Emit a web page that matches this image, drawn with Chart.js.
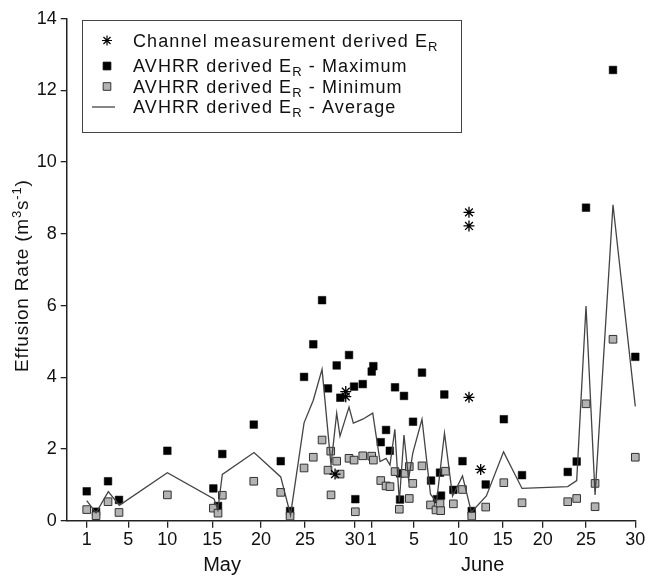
<!DOCTYPE html>
<html>
<head>
<meta charset="utf-8">
<script src="https://cdn.jsdelivr.net/npm/chart.js@4.4.1/dist/chart.umd.min.js"></script>
<style>
  html, body { margin: 0; padding: 0; background: #fff; }
</style>
</head>
<body>
<canvas id="effusionChart" width="658" height="576"></canvas>
<script>
// x values are days counted from 1 May (1 June = 32)
var tickDays   = [1, 5.55, 9.82, 14.74, 20.06, 24.88, 30.31, 32.17, 36.8, 41.64, 46.5, 50.87, 55.61, 61];
var tickLabels = ['1', '5', '10', '15', '20', '25', '30', '1', '5', '10', '15', '20', '25', '30'];
var monthLabels = ['May', 'June'];

var channelDays   = [28.16, 29.33, 29.33, 42.81, 42.81, 42.81, 44.09];
var channelValues = [1.30, 3.60, 3.46, 8.60, 8.22, 3.44, 1.43];

var maxDays = [1.0, 2.02, 3.33, 4.53, 9.82, 14.85, 15.36, 15.83, 19.27, 22.22, 23.24, 24.77, 25.78, 26.74, 27.39,
  28.34, 28.74, 29.69, 30.24, 30.38, 31.19, 32.17, 32.35, 33.16, 33.74, 34.15, 34.72, 35.27, 35.27, 35.70,
  36.69, 37.67, 38.66, 39.31, 39.64, 39.75, 40.11, 41.10, 42.10, 43.11, 44.64, 46.62, 48.61, 53.61, 54.59,
  55.61, 58.56, 61.0];
var maxValues = [0.82, 0.25, 1.10, 0.58, 1.95, 0.90, 0.41, 1.86, 2.68, 1.66, 0.27, 4.01, 4.92, 6.15, 3.69,
  4.33, 3.43, 4.62, 3.74, 0.60, 3.81, 4.16, 4.31, 2.19, 2.53, 1.95, 3.72, 0.59, 1.32, 3.48,
  2.76, 4.13, 1.12, 0.60, 1.34, 0.70, 3.52, 0.86, 1.66, 0.27, 1.01, 2.83, 1.27, 1.36, 1.65,
  8.73, 12.57, 4.57];

var minDays = [1.0, 2.02, 3.33, 4.53, 9.82, 14.85, 15.36, 15.83, 19.27, 22.22, 23.24, 24.77, 25.78, 26.74, 27.39,
  27.69, 27.72, 28.34, 28.71, 29.69, 30.24, 30.38, 31.19, 32.17, 32.35, 33.16, 33.74, 34.17, 34.72, 35.19,
  35.81, 36.28, 36.28, 36.66, 37.67, 38.60, 39.20, 39.64, 39.72, 40.24, 41.10, 42.10, 43.11, 44.64, 46.62,
  48.61, 53.61, 54.59, 55.61, 56.60, 56.60, 58.56, 61.0];
var minValues = [0.31, 0.14, 0.53, 0.23, 0.72, 0.35, 0.21, 0.71, 1.10, 0.79, 0.13, 1.47, 1.77, 2.25, 1.41,
  1.94, 0.72, 1.66, 1.30, 1.74, 1.69, 0.25, 1.81, 1.80, 1.69, 1.12, 0.97, 0.95, 1.37, 0.32,
  1.32, 1.51, 0.62, 1.04, 1.53, 0.44, 0.30, 0.48, 0.28, 1.38, 0.47, 0.87, 0.13, 0.38, 1.06,
  0.50, 0.53, 0.62, 3.26, 1.04, 0.39, 5.06, 1.77];

var avgDays = [1.0, 2.02, 3.36, 4.57, 9.82, 14.92, 15.34, 15.83, 19.30, 22.22, 23.29, 24.77, 25.78, 26.74, 27.72,
  28.34, 28.70, 29.69, 30.16, 31.19, 32.28, 33.08, 33.74, 34.17, 34.70, 35.19, 35.70, 36.20, 36.67, 37.67,
  38.60, 39.26, 40.13, 41.01, 42.10, 43.07, 44.71, 46.59, 48.61, 53.61, 54.59, 55.61, 56.60, 58.56, 61.0];
var avgValues = [0.56, 0.22, 0.81, 0.43, 1.34, 0.61, 0.30, 1.29, 1.90, 1.22, 0.16, 2.73, 3.36, 4.22, 1.55,
  3.0, 2.36, 3.17, 2.72, 2.83, 3.0, 1.65, 1.74, 1.55, 2.55, 0.52, 2.39, 1.16, 1.89, 2.83,
  0.74, 0.52, 2.44, 0.69, 1.25, 0.24, 0.69, 1.92, 0.90, 0.95, 1.12, 5.99, 0.72, 8.81, 3.19];

function toPoints(xs, ys) {
  return xs.map(function (x, i) { return { x: x, y: ys[i] }; });
}

var FONT = '"Liberation Sans", Arial, Helvetica, sans-serif';
Chart.defaults.font.family = FONT;
Chart.defaults.font.size = 18;
Chart.defaults.color = '#111';

// draws a run of [text, size, raise] pieces starting at x, returns end x
function drawRun(ctx, parts, x, y, measureOnly) {
  parts.forEach(function (p) {
    ctx.font = p[1] + 'px ' + FONT;
    if (!measureOnly) ctx.fillText(p[0], x, y - p[2]);
    x += ctx.measureText(p[0]).width;
  });
  return x;
}

// month names under the day ticks + rotated y title with superscripts
var textPlugin = {
  id: 'extraText',
  afterDraw: function (chart) {
    var ctx = chart.ctx, xs = chart.scales.x, area = chart.chartArea;
    var centers = [15.8, 44.3];
    ctx.save();
    ctx.font = '20px ' + FONT;
    ctx.fillStyle = '#111';
    ctx.textAlign = 'center';
    ctx.textBaseline = 'middle';
    monthLabels.forEach(function (m, i) {
      ctx.fillText(m, xs.getPixelForValue(centers[i]), 565);
    });

    var title = [['Effusion Rate (m', 19, 0], ['3', 13, 7], ['s', 19, 0], ['-1', 13, 7], [')', 19, 0]];
    ctx.textAlign = 'left';
    ctx.textBaseline = 'alphabetic';
    ctx.letterSpacing = '0.8px';
    var w = drawRun(ctx, title, 0, 0, true);
    ctx.translate(28, (area.top + area.bottom) / 2 + 6);
    ctx.rotate(-Math.PI / 2);
    drawRun(ctx, title, -w / 2, 0, false);
    ctx.restore();
  }
};

// boxed legend with subscript R
var legendPlugin = {
  id: 'boxLegend',
  afterDraw: function (chart) {
    var ctx = chart.ctx;
    var rows = [
      { pre: 'Channel measurement derived E', post: '', kind: 'star' },
      { pre: 'AVHRR derived E', post: ' - Maximum', kind: 'max' },
      { pre: 'AVHRR derived E', post: ' - Minimum', kind: 'min' },
      { pre: 'AVHRR derived E', post: ' - Average', kind: 'line' }
    ];
    var baselines = [46.5, 72, 92.5, 113];
    ctx.save();
    ctx.fillStyle = '#fff';
    ctx.fillRect(82, 20, 380, 113);
    ctx.strokeStyle = '#444';
    ctx.lineWidth = 1;
    ctx.strokeRect(82.5, 20.5, 379, 112);
    rows.forEach(function (r, i) {
      var by = baselines[i], cy = by - 6;
      if (r.kind === 'line') {
        ctx.strokeStyle = '#444';
        ctx.lineWidth = 1.3;
        ctx.beginPath();
        ctx.moveTo(92, cy);
        ctx.lineTo(115, cy);
        ctx.stroke();
      } else {
        var opt = r.kind === 'star'
          ? { pointStyle: 'star', radius: 5, rotation: 0, borderWidth: 1.2 }
          : { pointStyle: 'rect', radius: 5.4, rotation: 0, borderWidth: 1 };
        ctx.fillStyle = r.kind === 'min' ? '#b3b3b3' : '#000';
        ctx.strokeStyle = r.kind === 'min' ? '#333' : '#000';
        ctx.lineWidth = opt.borderWidth;
        Chart.helpers.drawPoint(ctx, opt, 107, cy);
      }
      ctx.fillStyle = '#111';
      ctx.textAlign = 'left';
      ctx.textBaseline = 'alphabetic';
      ctx.letterSpacing = '1.1px';
      drawRun(ctx, [[r.pre, 18, 0], ['R', 13, -4], [r.post, 18, 0]], 133, by, false);
    });
    ctx.restore();
  }
};

new Chart(document.getElementById('effusionChart').getContext('2d'), {
  type: 'scatter',
  data: {
    datasets: [
      {
        label: 'Channel measurement derived ER',
        data: toPoints(channelDays, channelValues),
        pointStyle: 'star',
        pointRadius: 5.5,
        borderColor: '#000',
        borderWidth: 1.3,
        backgroundColor: '#000',
        clip: false,
        order: 0
      },
      {
        type: 'line',
        label: 'AVHRR derived ER - Average',
        data: toPoints(avgDays, avgValues),
        borderColor: '#444',
        borderWidth: 1.3,
        pointRadius: 0,
        fill: false,
        tension: 0,
        clip: false,
        order: 1
      },
      {
        label: 'AVHRR derived ER - Minimum',
        data: toPoints(minDays, minValues),
        pointStyle: 'rect',
        pointRadius: 5.4,
        backgroundColor: '#b3b3b3',
        borderColor: '#333',
        borderWidth: 1,
        clip: false,
        order: 2
      },
      {
        label: 'AVHRR derived ER - Maximum',
        data: toPoints(maxDays, maxValues),
        pointStyle: 'rect',
        pointRadius: 5.4,
        backgroundColor: '#000',
        borderColor: '#000',
        borderWidth: 0.5,
        clip: false,
        order: 3
      }
    ]
  },
  options: {
    responsive: false,
    animation: false,
    layout: { padding: { top: 18.7, right: 22.7, left: 0, bottom: 0 } },
    plugins: { legend: { display: false }, tooltip: { enabled: false } },
    scales: {
      x: {
        type: 'linear',
        min: -1.19,
        max: 61,
        afterBuildTicks: function (scale) {
          scale.ticks = tickDays.map(function (v) { return { value: v }; });
        },
        afterFit: function (scale) { scale.height = 55.3; },
        ticks: {
          autoSkip: false,
          maxRotation: 0,
          padding: 2,
          color: '#111',
          font: { size: 18 },
          callback: function (value, index) { return tickLabels[index]; }
        },
        grid: { display: true, drawOnChartArea: false, drawTicks: true, tickLength: 7, color: '#222', lineWidth: 1.3 },
        border: { display: true, color: '#222', width: 1.5 }
      },
      y: {
        min: 0,
        max: 14,
        afterFit: function (scale) { scale.width = 66.7; },
        ticks: { stepSize: 2, padding: 4, color: '#111', font: { size: 18 } },
        grid: { display: true, drawOnChartArea: false, drawTicks: true, tickLength: 6, color: '#222', lineWidth: 1.3 },
        border: { display: true, color: '#222', width: 1.5 }
      }
    }
  },
  plugins: [textPlugin, legendPlugin]
});
</script>
</body>
</html>
